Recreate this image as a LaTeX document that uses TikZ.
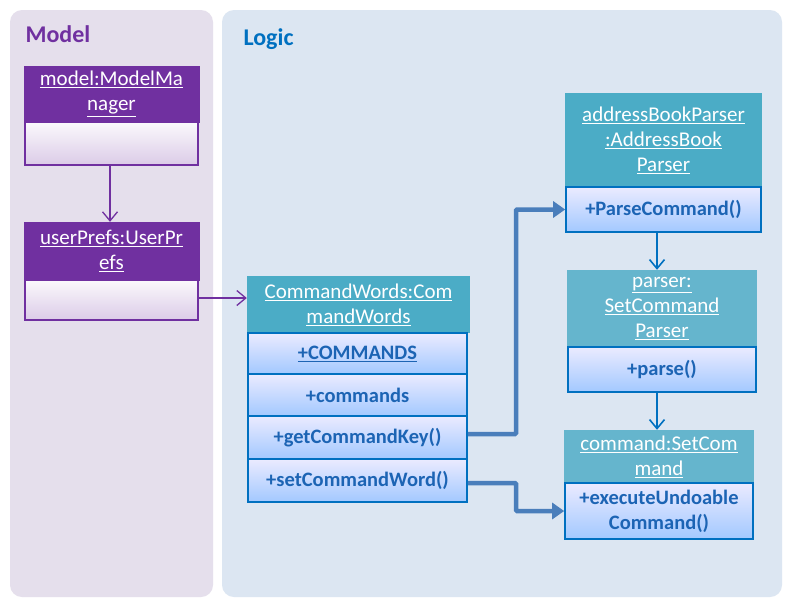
\documentclass[tikz,border=0pt]{standalone}
\usepackage{fontspec}
\setmainfont{Carlito}
\usetikzlibrary{arrows.meta,calc}
\definecolor{modelbg}{HTML}{E5DFEC}
\definecolor{logicbg}{HTML}{DCE6F2}
\definecolor{purp}{HTML}{7030A0}
\definecolor{tealA}{HTML}{4BACC6}
\definecolor{tealB}{HTML}{65B5CD}
\definecolor{rowline}{HTML}{0070C0}
\definecolor{rowtext}{HTML}{1C64B4}
\definecolor{conn}{HTML}{4A7EBB}
\definecolor{logictxt}{HTML}{0070C0}
\tikzset{
  panel/.style={rounded corners=12pt, draw=none},
  hdr/.style={rectangle, inner sep=0pt, align=center, text=white,
    font=\fontsize{21}{25}\selectfont},
  phead/.style={hdr, fill=purp, draw=purp},
  pbody/.style={rectangle, draw=purp, line width=1.3pt, top color=white!85!purp!20, bottom color=purp!25},
  thead/.style={hdr, fill=tealA},
  theadB/.style={hdr, fill=tealB},
  rowbox/.style={rectangle, draw=rowline, line width=1.6pt, inner sep=0pt, align=center,
    top color=blue!8!white, bottom color=blue!30!cyan!25!white!85!blue,
    text=rowtext, font=\bfseries\fontsize{20.5}{25}\selectfont},
  parrow/.style={draw=purp, line width=1.3pt, -{Straight Barb[length=9pt,width=15pt,line width=1.3pt]}},
  barrow/.style={draw=rowline, line width=1.6pt, -{Straight Barb[length=9pt,width=15pt,line width=1.6pt]}},
  conarrow/.style={draw=conn, line width=4.5pt, -{Triangle[length=12pt,width=16pt]}},
  ptitle/.style={font=\bfseries\fontsize{24}{28}\selectfont, anchor=west}
}
\begin{document}
\begin{tikzpicture}[x=1pt,y=-1pt]
\useasboundingbox (0,0) rectangle (791,606);
\fill[white] (0,0) rectangle (791,606);
% panels
\fill[panel, modelbg] (10,10) rectangle (213,597);
\fill[panel, logicbg] (222,10) rectangle (782,597);
\node[ptitle, text=purp] (mtitle) at (22,34) {Model};
\node[ptitle, text=logictxt] (ltitle) at (240,39) {Logic};
% model boxes
\node[phead, minimum width=175pt, minimum height=56pt] (mmh) at (111.5,94)
  {\underline{model:ModelMa}\\\underline{nager}};
\node[pbody, minimum width=173pt, minimum height=43pt] (mmb) at (111.5,143.5) {};
\node[phead, minimum width=175pt, minimum height=58pt] (uph) at (111.5,251)
  {\underline{userPrefs:UserPr}\\\underline{efs}};
\node[pbody, minimum width=173pt, minimum height=40pt] (upb) at (111.5,300) {};
% CommandWords
\node[thead, minimum width=223pt, minimum height=57pt] (cwh) at (358.5,304.5)
  {\underline{CommandWords:Com}\\\underline{mandWords}};
\node[rowbox, minimum width=219pt, minimum height=41pt] (cw1) at (357.5,353.5) {\underline{+COMMANDS}};
\node[rowbox, minimum width=219pt, minimum height=42pt] (cw2) at (357.5,395) {+commands};
\node[rowbox, minimum width=219pt, minimum height=43pt] (cw3) at (357.5,437.5) {+getCommandKey()};
\node[rowbox, minimum width=219pt, minimum height=43pt] (cw4) at (357.5,480.5) {+setCommandWord()};
% addressBookParser
\node[thead, minimum width=197pt, minimum height=94pt] (abh) at (663.5,140)
  {\underline{addressBookParser}\\\underline{:AddressBook}\\\underline{Parser}};
\node[rowbox, minimum width=195pt, minimum height=45pt] (abr) at (663.5,209.5) {+ParseCommand()};
% parser
\node[theadB, minimum width=190pt, minimum height=77pt] (psh) at (662,308.5)
  {\underline{parser:}\\\underline{SetCommand}\\\underline{Parser}};
\node[rowbox, minimum width=188pt, minimum height=45pt] (psr) at (662,369.5) {+parse()};
% command
\node[theadB, minimum width=190pt, minimum height=53pt] (csh) at (659,456.5)
  {\underline{command:SetCom}\\\underline{mand}};
\node[rowbox, minimum width=188pt, minimum height=56pt] (csr) at (659,511) {+executeUndoable\\Command()};
% connectors
\draw[parrow] (mmb.south -| 110,0) -- (uph.north -| 110,0);
\draw[parrow] (upb.east |- 0,298) -- (cwh.west |- 0,298);
\draw[barrow] (abr.south -| 657,0) -- (psh.north -| 657,0);
\draw[barrow] (psr.south -| 657,0) -- (csh.north -| 657,0);
\draw[conarrow, rounded corners=1pt] (cw3.east |- 0,434) -| (516,209.5) -- (abr.west);
\draw[conarrow, rounded corners=1pt] (cw4.east |- 0,483) -| (516,511) -- (csr.west);
\end{tikzpicture}
\end{document}
